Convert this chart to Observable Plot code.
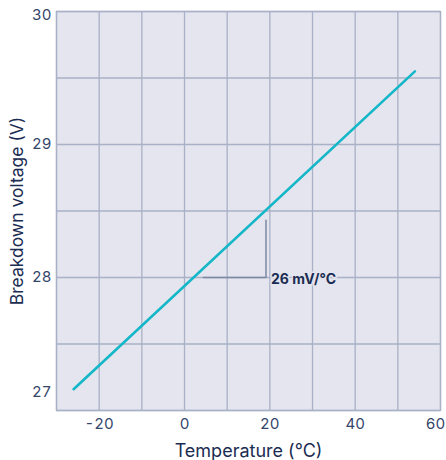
<!DOCTYPE html>
<html>
<head>
<meta charset="utf-8">
<script src="https://cdn.jsdelivr.net/npm/d3@7"></script>
<script src="https://cdn.jsdelivr.net/npm/@observablehq/plot@0.6"></script>
<style>
  html, body { margin: 0; padding: 0; background: #ffffff; }
  #chart { width: 446px; height: 460px; }
</style>
</head>
<body>
<div id="chart"></div>
<script>
// Data
const temperature = [-26, 54];           // °C, line end points
const voltage = [27.16, 29.55];          // V
const slopeTemp = [4.4, 19.1, 19.1];     // slope triangle corners (°C)
const slopeVolt = [28, 28, 28.43];       // slope triangle corners (V)
const slopeLabel = "26 mV/°C";
const xTicks = [-20, 0, 20, 40, 60];
const yTicks = [27, 28, 29, 30];
const xGrid = d3.range(-30, 61, 10);
const yGrid = d3.range(27, 30.01, 0.5);

const lineData = temperature.map((t, i) => ({t, v: voltage[i]}));
const slopeData = slopeTemp.map((t, i) => ({t, v: slopeVolt[i]}));

const bg = "#e4e5ee";
const gridColor = "#a9b1c6";
const tickColor = "#34456a";
const titleColor = "#1b2d52";
const fmt = d => String(d);
const tickOpts = {tickSize: 0, fontSize: 15, color: tickColor, label: null, tickFormat: fmt};

const chart = Plot.plot({
  width: 446,
  height: 460,
  marginLeft: 56,
  marginRight: 6,
  marginTop: 11,
  marginBottom: 50,
  style: {fontFamily: "Inter, 'Noto Sans', sans-serif", background: "#ffffff"},
  x: {domain: [-30, 60]},
  y: {domain: [27, 30]},
  marks: [
    Plot.frame({fill: bg, stroke: null}),
    Plot.gridX(xGrid, {stroke: gridColor, strokeOpacity: 1, strokeWidth: 1.3}),
    Plot.gridY(yGrid, {stroke: gridColor, strokeOpacity: 1, strokeWidth: 1.3}),
    Plot.frame({stroke: gridColor, strokeWidth: 1.3}),
    Plot.axisX(xTicks.slice(0, 4), {...tickOpts, tickPadding: 8}),
    Plot.axisX(xTicks.slice(4), {...tickOpts, tickPadding: 8, dx: -5}),
    Plot.axisX({ticks: [], label: "Temperature (°C)", labelAnchor: "center", labelArrow: "none", labelOffset: 46, fontSize: 18, color: titleColor}),
    Plot.axisY(yTicks.slice(1, 3), {...tickOpts, tickPadding: 5}),
    Plot.axisY(yTicks.slice(3), {...tickOpts, tickPadding: 5, dy: 4}),
    Plot.axisY(yTicks.slice(0, 1), {...tickOpts, tickPadding: 5, dy: -18}),
    Plot.axisY({ticks: [], label: "Breakdown voltage (V)", labelAnchor: "center", labelArrow: "none", labelOffset: 46, fontSize: 17.5, color: titleColor}),
    Plot.line(slopeData, {x: "t", y: "v", stroke: "#7d88a3", strokeWidth: 1.5}),
    Plot.line(lineData, {x: "t", y: "v", stroke: "#14b7c8", strokeWidth: 2.6}),
    Plot.text([slopeLabel], {x: slopeTemp[2], y: slopeVolt[1], text: d => d, textAnchor: "start", dx: 5, dy: 2,
      fontSize: 14, fontWeight: "bold", fill: titleColor, stroke: bg, strokeWidth: 3})
  ]
});
document.getElementById("chart").append(chart);
</script>
</body>
</html>
